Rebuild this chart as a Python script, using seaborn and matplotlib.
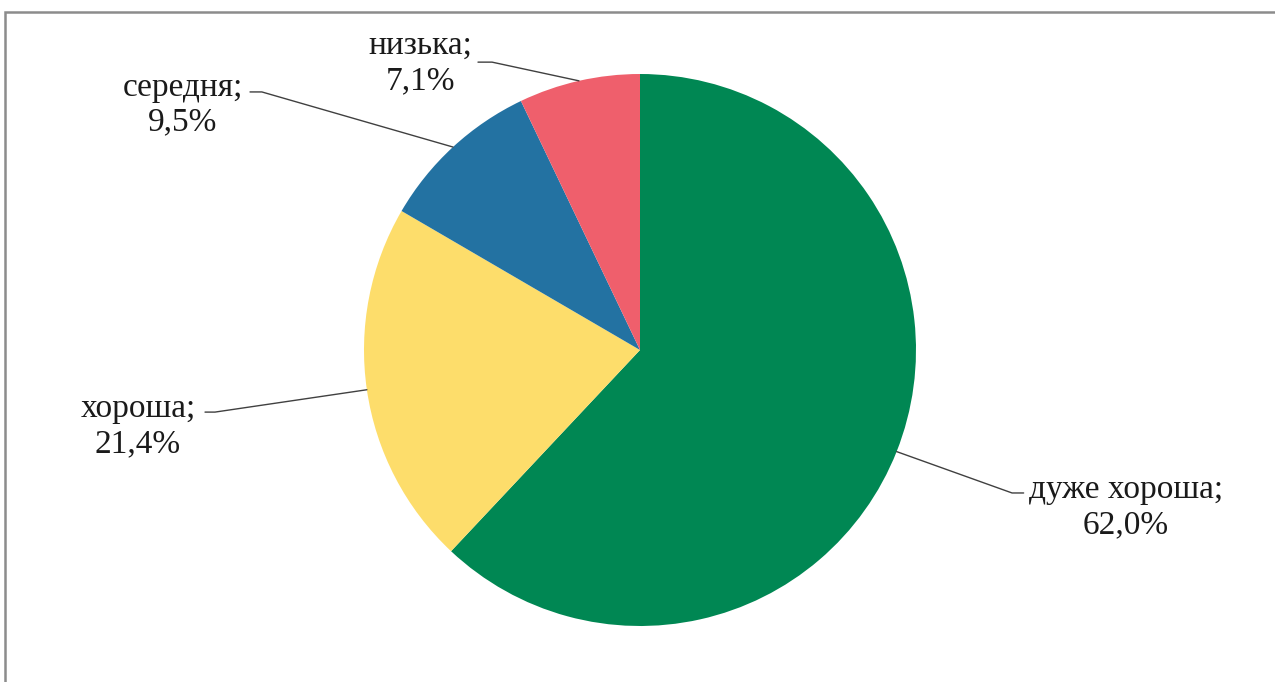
import numpy as np
import matplotlib
matplotlib.use('Agg')
import matplotlib.pyplot as plt
import seaborn as sns
from matplotlib.patches import Rectangle

# дані діаграми
categories = ['дуже хороша', 'хороша', 'середня', 'низька']
shares = [62.0, 21.4, 9.5, 7.1]
colors = ['#008753', '#FDDD6B', '#2372A2', '#EF5F6C']

sns.set_theme(style='white')
plt.rcParams['font.family'] = ['Liberation Serif', 'DejaVu Serif']

W, H = 1275, 682
fig = plt.figure(figsize=(W / 100, H / 100), dpi=100)

# рамка області діаграми
fig.patches.append(Rectangle((5 / W, -0.1), 1.2, 1 - 12 / H + 0.1,
                             transform=fig.transFigure, fill=False,
                             edgecolor='#8c8c8c', linewidth=1.8))

# центр (640, 350), радіус 276 px
cx, cy, r = 640, 350, 276
ax = fig.add_axes([(cx - r) / W, (H - cy - r) / H, 2 * r / W, 2 * r / H])

ax.pie(shares, colors=sns.color_palette(colors), startangle=90, counterclock=False,
       radius=1, wedgeprops=dict(linewidth=0))
ax.set_xlim(-1, 1)
ax.set_ylim(-1, 1)
ax.axis('off')

# положення підписів (центр тексту) і зламу виносної лінії, у координатах осей
text_pos = [(1.760, -0.570), (-1.819, -0.276), (-1.656, 0.888), (-0.797, 1.040)]
elbow_pos = [(1.348, -0.518), (-1.540, -0.225), (-1.370, 0.935), (-0.536, 1.043)]
tail_pos = [(1.390, -0.518), (-1.576, -0.225), (-1.413, 0.935), (-0.587, 1.043)]

cum = 0
for cat, val, tp, ep, tl in zip(categories, shares, text_pos, elbow_pos, tail_pos):
    mid = np.deg2rad(90 - 360 * (cum + val / 2) / 100)
    cum += val
    x0, y0 = np.cos(mid), np.sin(mid)
    ax.plot([x0, ep[0], tl[0]], [y0, ep[1], tl[1]], color='#404040',
            linewidth=1.0, clip_on=False)
    label = '{};\n{}%'.format(cat, ('%.1f' % val).replace('.', ','))
    ax.text(tp[0], tp[1], label, ha='center', va='center', multialignment='center',
            fontsize=24, color='#1a1a1a', linespacing=1.2, clip_on=False)

fig.savefig('out.png', dpi=100)
